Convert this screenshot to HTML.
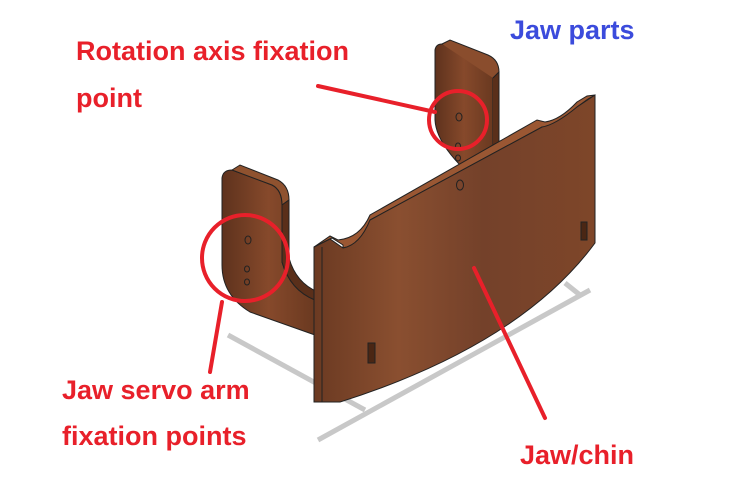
<!DOCTYPE html>
<html><head><style>
html,body{margin:0;padding:0;background:#fff;}
body{width:735px;height:493px;overflow:hidden;position:relative;font-family:"Liberation Sans",sans-serif;}
.t{position:absolute;font-weight:bold;font-size:27px;line-height:36px;color:#e8202a;}
</style></head><body>
<svg width="735" height="493" style="position:absolute;left:0;top:0">
<defs>
<linearGradient id="w" x1="0" y1="0" x2="1" y2="0">
<stop offset="0" stop-color="#6b3a22"/><stop offset="0.3" stop-color="#8a4f30"/><stop offset="0.6" stop-color="#74412a"/><stop offset="1" stop-color="#7e4629"/>
</linearGradient>
<linearGradient id="w2" x1="0" y1="0" x2="1" y2="0">
<stop offset="0" stop-color="#5e321d"/><stop offset="0.5" stop-color="#86492b"/><stop offset="1" stop-color="#6a3920"/>
</linearGradient>
</defs>
<!-- shadow -->
<g stroke="#c8c8c8" stroke-width="5" fill="none">
<line x1="228" y1="335" x2="365" y2="410"/>
<line x1="318" y1="440" x2="590" y2="290"/>
<line x1="565" y1="283" x2="580" y2="295"/>
</g>
<!-- right bracket (back) -->
<path d="M435,50 Q436,44 442,44 L486,62 Q493,66 493,78 L493,145 L460,165 Q436,140 435,120 Z" fill="url(#w2)" stroke="#222" stroke-width="1"/>
<path d="M442,44 L450,40 L488,55 Q499,60 499,72 L493,78" fill="#8a4d2d" stroke="#222" stroke-width="1"/>
<line x1="493" y1="78" x2="493" y2="145" stroke="#222"/>
<path d="M493,78 L499,72 L499,142 L493,145" fill="#5a2f1a" stroke="#222" stroke-width="1"/>
<ellipse cx="459" cy="117" rx="3" ry="4" fill="none" stroke="#222"/>
<ellipse cx="458" cy="146" rx="2.5" ry="3" fill="none" stroke="#222"/>
<ellipse cx="458" cy="158" rx="2.5" ry="3" fill="none" stroke="#222"/>
<!-- left bracket -->
<path d="M222,178 Q223,170 232,170 L272,185 Q282,190 282,205 L282,262 Q290,290 315,300 L315,335 L250,312 Q222,295 222,265 Z" fill="url(#w2)" stroke="#222" stroke-width="1"/>
<path d="M232,170 L240,165 L278,180 Q289,186 289,200 L282,205 Q282,190 272,185 Z" fill="#8f522f" stroke="#222" stroke-width="1"/>
<path d="M282,205 L289,200 L289,258 Q296,283 318,292 L315,300 Q290,290 282,262 Z" fill="#5a2f1a" stroke="#222" stroke-width="1"/>
<ellipse cx="248" cy="240" rx="3" ry="4" fill="none" stroke="#222"/>
<ellipse cx="247" cy="269" rx="2.5" ry="3" fill="none" stroke="#222"/>
<ellipse cx="247" cy="282" rx="2.5" ry="3" fill="none" stroke="#222"/>
<!-- front plate top edge -->
<path d="M314,247 L332,238 L343,245 L343,248 Q360,245 370,220 L542,127 Q555,130 577,107 L588,99 L595,95 L587,96 L577,102 Q560,120 545,122 L537,120 L370,215 Q360,238 338,240 L330,236 Z" fill="#9a5733" stroke="#222" stroke-width="1"/>
<!-- front plate face -->
<path d="M314,247 L330,239 L343,248 Q360,245 370,220 L542,127 Q555,125 577,107 L595,95 L595,243 Q520,345 340,402 L314,402 Z" fill="url(#w)" stroke="#222" stroke-width="1"/>
<line x1="322" y1="247" x2="322" y2="402" stroke="#222"/>
<ellipse cx="460" cy="185" rx="3.5" ry="5" fill="none" stroke="#222"/>
<rect x="368" y="343" width="7" height="20" fill="#4a2614" stroke="#222"/>
<rect x="581" y="222" width="6" height="18" fill="#4a2614" stroke="#222"/>
<!-- annotations -->
<g stroke="#e8202a" stroke-width="4" fill="none" stroke-linecap="round">
<circle cx="458" cy="120" r="29"/>
<line x1="318" y1="86" x2="435" y2="112"/>
<circle cx="245" cy="258" r="43"/>
<line x1="222" y1="302" x2="210" y2="372"/>
<line x1="474" y1="268" x2="545" y2="418"/>
</g>
</svg>
<div class="t" style="left:76px;top:33px">Rotation axis fixation</div>
<div class="t" style="left:76px;top:80px">point</div>
<div class="t" style="left:62px;top:372px">Jaw servo arm</div>
<div class="t" style="left:62px;top:418px">fixation points</div>
<div class="t" style="left:520px;top:437px">Jaw/chin</div>
<div class="t" style="left:510px;top:12px;color:#3b4bdc">Jaw parts</div>
</body></html>
